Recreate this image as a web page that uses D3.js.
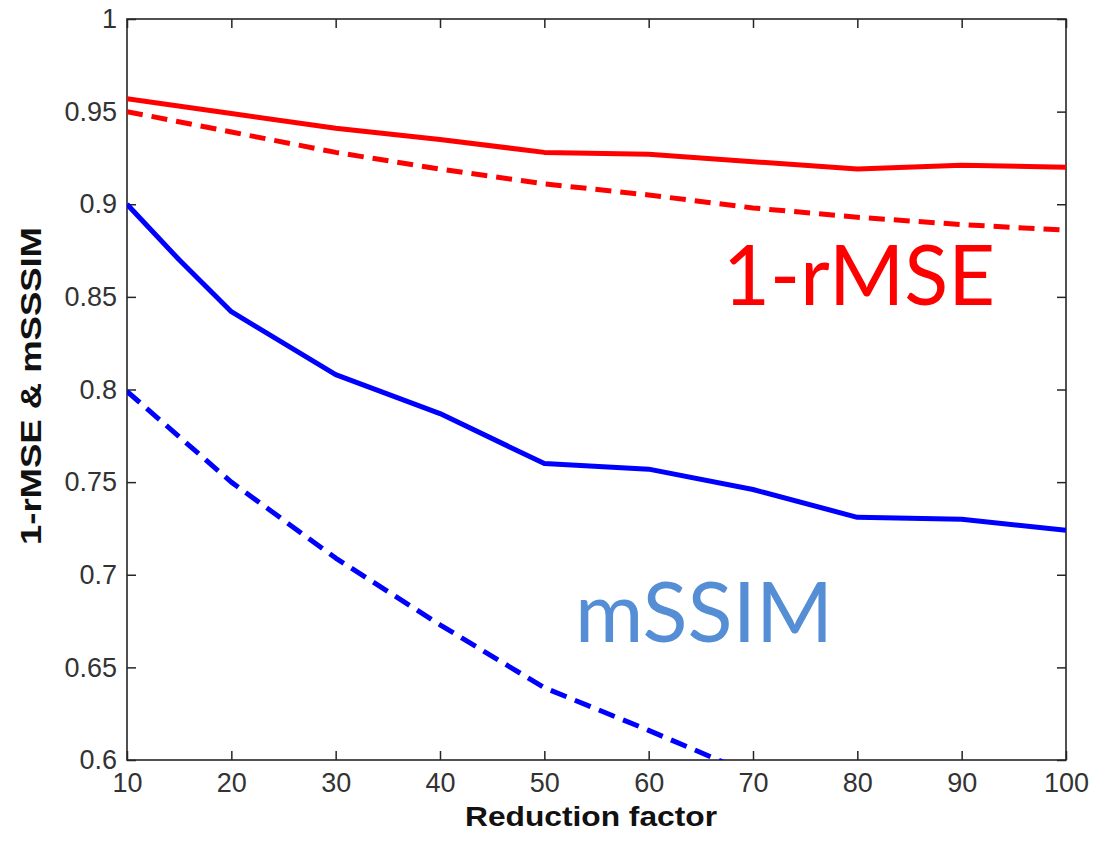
<!DOCTYPE html>
<html>
<head>
<meta charset="utf-8">
<script src="https://cdn.jsdelivr.net/npm/d3@7"></script>
<style>
  body { margin: 0; background: #fff; }
  .tick text { font-family: 'Liberation Sans', Arial, sans-serif; font-size: 27px; fill: #333; }
  .tick line { stroke: #262626; stroke-width: 1.5; }
  .line { fill: none; stroke-width: 5; stroke-linejoin: round; }
</style>
</head>
<body>
<script>
const factors = [10, 20, 30, 40, 50, 60, 70, 80, 90, 100];
const rmseSolid = [0.957, 0.949, 0.941, 0.935, 0.928, 0.927, 0.923, 0.919, 0.921, 0.920];
const rmseDashed = [0.950, 0.939, 0.928, 0.919, 0.911, 0.905, 0.898, 0.893, 0.889, 0.886];

const ssimFactors = [10, 15, 20, 30, 40, 50, 60, 70, 80, 90, 100];
const ssimSolid = [0.900, 0.870, 0.842, 0.808, 0.787, 0.760, 0.757, 0.746, 0.731, 0.730, 0.724];
const ssimDashedFactors = [10, 20, 30, 40, 50, 60, 70];
const ssimDashed = [0.799, 0.750, 0.709, 0.673, 0.639, 0.616, 0.592];

const xTicks = [10, 20, 30, 40, 50, 60, 70, 80, 90, 100];
const yTicks = [0.6, 0.65, 0.7, 0.75, 0.8, 0.85, 0.9, 0.95, 1];

const margin = { top: 19, right: 28, bottom: 82, left: 127 };
const W = 1094, H = 842;
const width = W - margin.left - margin.right;
const height = H - margin.top - margin.bottom;

const x = d3.scaleLinear().domain([10, 100]).range([0, width]);
const y = d3.scaleLinear().domain([0.6, 1]).range([height, 0]);

const svg = d3.select('body')
  .append('svg')
  .attr('width', W)
  .attr('height', H)
  .append('g')
  .attr('transform', `translate(${margin.left},${margin.top})`);

svg.append('defs').append('clipPath')
  .attr('id', 'plot-clip')
  .append('rect')
  .attr('width', width)
  .attr('height', height);

// axes with inward ticks, labels only on left and bottom
svg.append('g')
  .attr('transform', `translate(0,${height})`)
  .call(d3.axisBottom(x).tickValues(xTicks).tickSize(-9).tickPadding(13).tickFormat(d3.format('d')))
  .call(g => g.select('.domain').remove());

svg.append('g')
  .call(d3.axisTop(x).tickValues(xTicks).tickSize(-9).tickFormat(''))
  .call(g => g.select('.domain').remove());

svg.append('g')
  .call(d3.axisLeft(y).tickValues(yTicks).tickSize(-9).tickPadding(10).tickFormat(d => +d.toFixed(2)))
  .call(g => g.select('.domain').remove());

svg.append('g')
  .attr('transform', `translate(${width},0)`)
  .call(d3.axisRight(y).tickValues(yTicks).tickSize(-9).tickFormat(''))
  .call(g => g.select('.domain').remove());

svg.selectAll('.tick text').attr('font-family', null).attr('font-size', null);

svg.append('rect')
  .attr('width', width)
  .attr('height', height)
  .attr('fill', 'none')
  .attr('stroke', '#262626')
  .attr('stroke-width', 1.6);

const line = d3.line()
  .x(d => x(d[0]))
  .y(d => y(d[1]));

const series = [
  { xs: factors, ys: rmseSolid, color: '#ff0000', dash: null },
  { xs: factors, ys: rmseDashed, color: '#ff0000', dash: '16,9' },
  { xs: ssimFactors, ys: ssimSolid, color: '#0000ff', dash: null },
  { xs: ssimDashedFactors, ys: ssimDashed, color: '#0000ff', dash: '17,9' }
];

const plot = svg.append('g').attr('clip-path', 'url(#plot-clip)');

plot.selectAll('.line')
  .data(series)
  .enter()
  .append('path')
  .attr('class', 'line')
  .attr('d', s => line(s.xs.map((v, i) => [v, s.ys[i]])))
  .attr('stroke', s => s.color)
  .attr('stroke-dasharray', s => s.dash);

// axis titles
svg.append('text')
  .attr('x', 465 - margin.left)
  .attr('y', 826 - margin.top)
  .attr('font-family', "'Liberation Sans', Arial, sans-serif")
  .attr('font-weight', 'bold')
  .attr('font-size', 28)
  .attr('fill', '#111')
  .attr('textLength', 252)
  .attr('lengthAdjust', 'spacingAndGlyphs')
  .text('Reduction factor');

svg.append('text')
  .attr('transform', `translate(${41 - margin.left},${545 - margin.top}) rotate(-90)`)
  .attr('font-family', "'Liberation Sans', Arial, sans-serif")
  .attr('font-weight', 'bold')
  .attr('font-size', 30)
  .attr('fill', '#111')
  .attr('textLength', 318)
  .attr('lengthAdjust', 'spacingAndGlyphs')
  .text('1-rMSE & mSSSIM');

// series annotations
svg.append('text')
  .attr('x', 723 - margin.left)
  .attr('y', 305 - margin.top)
  .attr('font-family', 'Lato, sans-serif')
  .attr('font-size', 84)
  .attr('fill', '#ff0000')
  .attr('textLength', 272)
  .attr('lengthAdjust', 'spacingAndGlyphs')
  .text('1-rMSE');

svg.append('text')
  .attr('x', 575 - margin.left)
  .attr('y', 642 - margin.top)
  .attr('font-family', 'Lato, sans-serif')
  .attr('font-size', 83)
  .attr('fill', '#558ed5')
  .attr('textLength', 258)
  .attr('lengthAdjust', 'spacingAndGlyphs')
  .text('mSSIM');
</script>
</body>
</html>
